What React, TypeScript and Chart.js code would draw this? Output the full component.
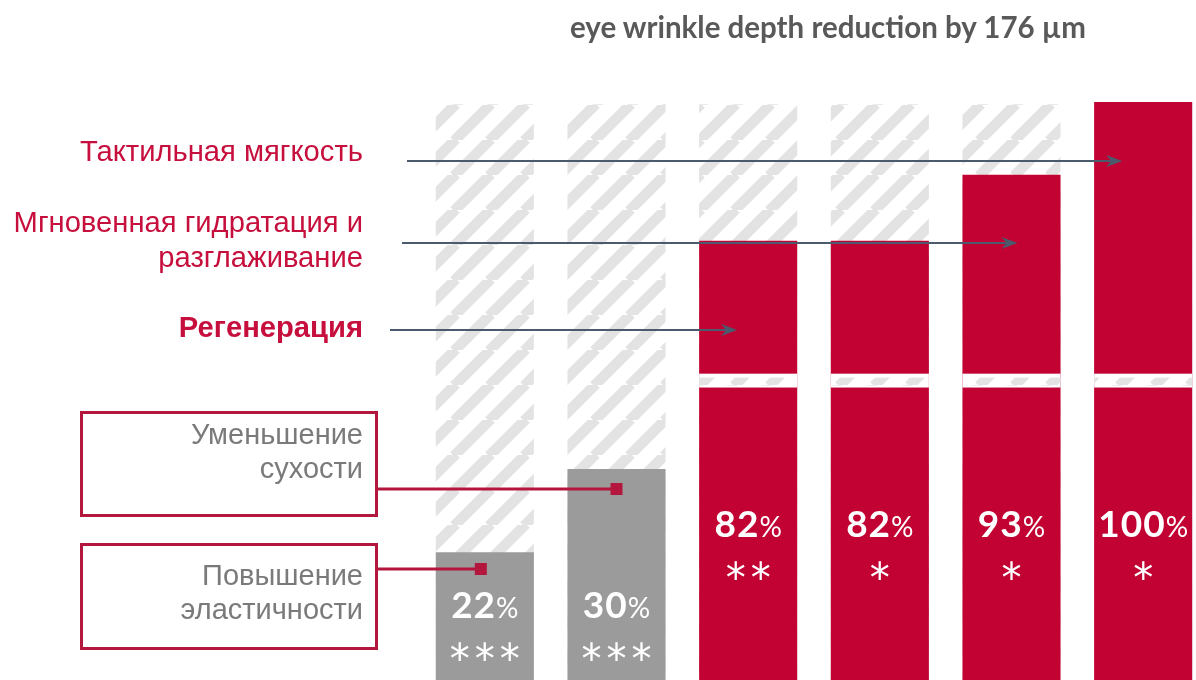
import React, { useEffect, useRef } from 'react';
import { Chart, registerables } from 'chart.js';
Chart.register(...registerables);

// ---- data ----
const categories = ['Повышение эластичности', 'Уменьшение сухости', 'Регенерация', 'Регенерация 2', 'Мгновенная гидратация', 'Тактильная мягкость'];
const valuePercents = [22, 30, 82, 82, 93, 100];
const significance = ['***', '***', '**', '*', '*', '*'];
// bar heights as drawn in the picture (visual scale: 100 = tallest bar)
const barLevels = [22.1, 36.5, 76.0, 76.0, 87.4, 100];
const hatchLevels = [99.6, 99.6, 99.6, 99.6, 99.6, 99.6];
const barKinds = ['gray', 'gray', 'red', 'red', 'red', 'red'];
const breakBand = [50.6, 53.0];

const RED = '#c10233';
const GRAY = '#9b9b9b';
const ARROW = '#4b5a6d';
const BOXRED = '#b3173d';
const TEXTRED = '#c60f3c';

export default function App() {
  const ref = useRef<HTMLCanvasElement>(null);
  useEffect(() => {
    const canvas = ref.current!;
    const tile = document.createElement('canvas');
    tile.width = 35; tile.height = 35;
    const tctx = tile.getContext('2d')!;
    tctx.strokeStyle = '#e3e3e3';
    tctx.lineWidth = 10.6;
    tctx.beginPath();
    for (const c of [0, 35, 70]) { tctx.moveTo(c - 36, 36); tctx.lineTo(c + 1, -1); }
    tctx.stroke();
    const hatch = canvas.getContext('2d')!.createPattern(tile, 'repeat')!;

    const overlay = {
      id: 'overlay',
      afterDatasetsDraw(chart: any) {
        const ctx = chart.ctx as CanvasRenderingContext2D;
        const ys = chart.scales.y;
        const meta = chart.getDatasetMeta(0);
        const yTop = ys.getPixelForValue(breakBand[1]);
        const yBot = ys.getPixelForValue(breakBand[0]);
        ctx.save();
        meta.data.forEach((bar: any, i: number) => {
          const p = bar.getProps(['x', 'width'], true);
          const left = p.x - p.width / 2;
          if (barLevels[i] > breakBand[1]) {
            ctx.fillStyle = '#ffffff';
            ctx.fillRect(left, yTop, p.width, yBot - yTop);
            ctx.fillStyle = hatch;
            ctx.fillRect(left, yTop + 4, p.width, yBot - yTop - 6);
          }
          // value label
          const red = barKinds[i] === 'red';
          const base = ys.getPixelForValue(red ? 24.7 : 10.7);
          const starY = ys.getPixelForValue(red ? 19.0 : 5.0);
          const num = String(valuePercents[i]);
          ctx.fillStyle = '#ffffff';
          ctx.textBaseline = 'alphabetic';
          (ctx as any).letterSpacing = '1px';
          ctx.font = 'bold 37px Lato, "DejaVu Sans", sans-serif';
          const w1 = ctx.measureText(num).width;
          (ctx as any).letterSpacing = '0px';
          ctx.font = '28px Lato, "DejaVu Sans", sans-serif';
          const w2 = ctx.measureText('%').width;
          const sx = p.x - (w1 + w2) / 2;
          (ctx as any).letterSpacing = '1px';
          ctx.font = 'bold 37px Lato, "DejaVu Sans", sans-serif';
          ctx.textAlign = 'left';
          ctx.fillText(num, sx, base);
          (ctx as any).letterSpacing = '0px';
          ctx.font = '28px Lato, "DejaVu Sans", sans-serif';
          ctx.fillText('%', sx + w1, base);
          // asterisks
          ctx.font = '40px "DejaVu Sans", sans-serif';
          ctx.textAlign = 'center';
          const m = ctx.measureText('*');
          const off = (m.actualBoundingBoxAscent - m.actualBoundingBoxDescent) / 2;
          const n = significance[i].length;
          for (let k = 0; k < n; k++) {
            const ax = p.x + (k - (n - 1) / 2) * 25;
            ctx.fillText('*', ax, starY + off);
          }
        });
        // arrows from text labels to bars
        const arrows = [
          { bar: 5, dx: -21, y: 161, x0: 407 },
          { bar: 4, dx: 6, y: 243, x0: 402 },
          { bar: 2, dx: -11, y: 330, x0: 390 },
        ];
        ctx.strokeStyle = ARROW;
        ctx.fillStyle = ARROW;
        ctx.lineWidth = 2;
        arrows.forEach((a) => {
          const tip = meta.data[a.bar].x + a.dx;
          ctx.beginPath();
          ctx.moveTo(a.x0, a.y);
          ctx.lineTo(tip - 6, a.y);
          ctx.stroke();
          ctx.beginPath();
          ctx.moveTo(tip, a.y);
          ctx.lineTo(tip - 16, a.y - 6);
          ctx.lineTo(tip - 11, a.y);
          ctx.lineTo(tip - 16, a.y + 6);
          ctx.closePath();
          ctx.fill();
        });
        // connectors from boxes to bars
        const conns = [
          { bar: 1, dx: 0, y: 489, x0: 378 },
          { bar: 0, dx: -4, y: 569, x0: 378 },
        ];
        ctx.strokeStyle = BOXRED;
        ctx.fillStyle = BOXRED;
        ctx.lineWidth = 3;
        conns.forEach((c) => {
          const ex = meta.data[c.bar].x + c.dx;
          ctx.beginPath();
          ctx.moveTo(c.x0, c.y);
          ctx.lineTo(ex, c.y);
          ctx.stroke();
          ctx.fillRect(ex - 6, c.y - 6, 12, 12);
        });
        ctx.restore();
      },
    };

    const chart = new Chart(canvas, {
      type: 'bar',
      data: {
        labels: categories,
        datasets: [
          { data: barLevels, backgroundColor: barKinds.map((k) => (k === 'red' ? RED : GRAY)), order: 0, grouped: false, barPercentage: 0.745, categoryPercentage: 1 },
          { data: hatchLevels, backgroundColor: hatch, order: 1, grouped: false, barPercentage: 0.745, categoryPercentage: 1 },
        ],
      } as any,
      options: {
        animation: false,
        responsive: false,
        devicePixelRatio: 1,
        events: [],
        layout: { padding: { left: 419, right: 1, top: 0, bottom: 0 } },
        scales: {
          x: { display: false },
          y: { display: false, min: 0, max: 117.65 },
        },
        plugins: { legend: { display: false }, tooltip: { enabled: false } },
      } as any,
      plugins: [overlay],
    });
    return () => chart.destroy();
  }, []);

  const font = '"Liberation Sans", Arial, sans-serif';
  const redText: React.CSSProperties = { position: 'absolute', right: 1196 - 363, textAlign: 'right', color: TEXTRED, fontFamily: font, fontSize: 29.2, lineHeight: '35px', whiteSpace: 'nowrap' };
  const grayText: React.CSSProperties = { position: 'absolute', right: 1196 - 363, textAlign: 'right', color: '#7a7a7a', fontFamily: font, fontSize: 29, lineHeight: '34px', whiteSpace: 'nowrap' };
  const box: React.CSSProperties = { position: 'absolute', left: 80, width: 298, boxSizing: 'border-box', border: `3px solid ${BOXRED}` };

  return (
    <div style={{ position: 'fixed', left: 0, top: 0, width: 1196, height: 680, overflow: 'hidden', background: '#fff' }}>
      <canvas ref={ref} width={1210} height={680} style={{ position: 'absolute', left: 0, top: 0 }} />
      <div style={{ position: 'absolute', left: 570, top: 12, fontFamily: 'Lato, sans-serif', fontWeight: 'bold', fontSize: 29.5, lineHeight: '29.5px', color: '#595959', whiteSpace: 'nowrap' }}>
        eye wrinkle depth reduction by 176 µm
      </div>
      <div style={{ ...redText, top: 134 }}>Тактильная мягкость</div>
      <div style={{ ...redText, top: 205 }}>Мгновенная гидратация и<br />разглаживание</div>
      <div style={{ ...redText, top: 310, fontWeight: 'bold' }}>Регенерация</div>
      <div style={{ ...box, top: 411, height: 106 }} />
      <div style={{ ...box, top: 543, height: 107 }} />
      <div style={{ ...grayText, top: 417 }}>Уменьшение<br />сухости</div>
      <div style={{ ...grayText, top: 558 }}>Повышение<br />эластичности</div>
    </div>
  );
}
